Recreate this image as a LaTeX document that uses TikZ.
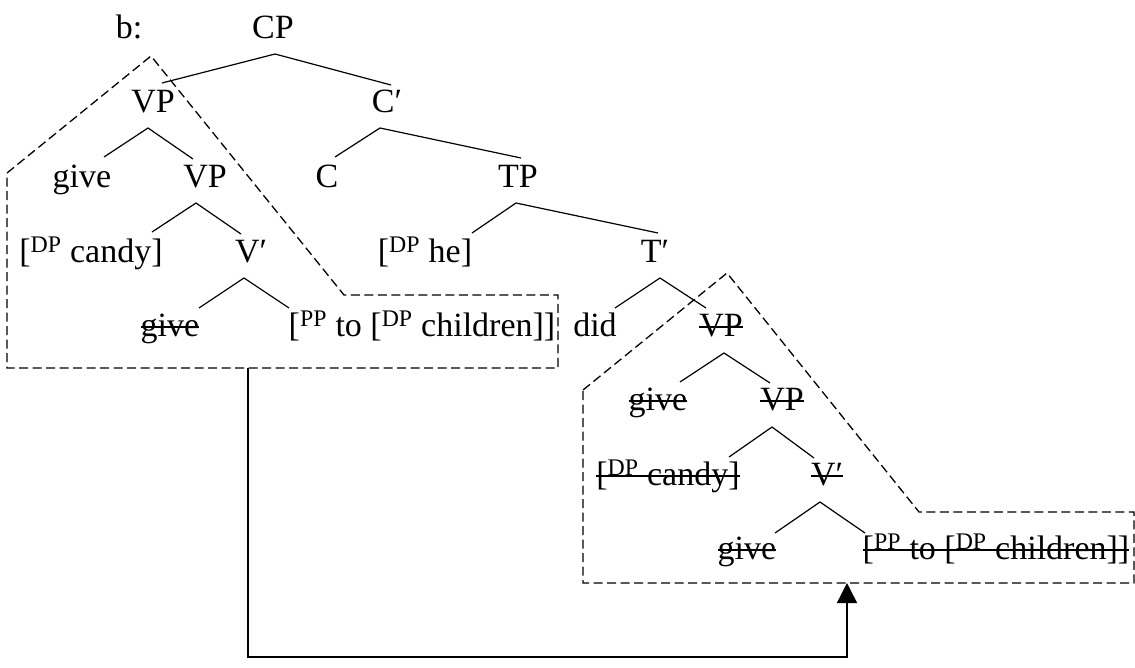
\documentclass[tikz,border=0pt]{standalone}
\usepackage{fontspec}
\setmainfont{Liberation Serif}
\usetikzlibrary{calc,arrows.meta}
\newcommand\sps[1]{\textsuperscript{#1}}
\begin{document}
\begin{tikzpicture}[x=1pt,y=-1pt,
  lbl/.style={inner sep=0pt,anchor=base,font=\fontsize{34}{40}\selectfont},
  br/.style={line width=1.2pt},
  strk/.style={line width=1.4pt},
  mv/.style={dash pattern=on 9pt off 4.5pt,line width=1.3pt},
  link/.style={line width=1.4pt,-{Triangle[length=20pt,width=20pt]}}]
\useasboundingbox (0,0) rectangle (1135,667);
% labels
\node[lbl] (b) at (129,38) {b:};
\node[lbl] (CP) at (273,38) {CP};
\node[lbl] (VPa) at (153,112) {VP};
\node[lbl] (Cbar) at (387,112) {C′};
\node[lbl] (give1) at (82,187) {give};
\node[lbl] (VPb) at (205,187) {VP};
\node[lbl] (C) at (327,187) {C};
\node[lbl] (TP) at (518,187) {TP};
\node[lbl] (candy1) at (91,262) {[\sps{DP} candy]};
\node[lbl] (Vbar1) at (251,262) {V′};
\node[lbl] (he) at (425,262) {[\sps{DP} he]};
\node[lbl] (Tbar) at (655,262) {T′};
\node[lbl] (give2) at (170,336) {give};
\node[lbl] (PP1) at (422,336) {[\sps{PP} to [\sps{DP} children]]};
\node[lbl] (did) at (595,336) {did};
\node[lbl] (VPc) at (721,336) {VP};
\node[lbl] (give3) at (658,410) {give};
\node[lbl] (VPd) at (782,410) {VP};
\node[lbl] (candy2) at (668,485) {[\sps{DP} candy]};
\node[lbl] (Vbar2) at (827,485) {V′};
\node[lbl] (give4) at (747,559) {give};
\node[lbl] (PP2) at (996,559) {[\sps{PP} to [\sps{DP} children]]};
% strike-through of copies
\foreach \n in {give2,VPc,give3,VPd,candy2,Vbar2,give4,PP2}
  \draw[strk] ($(\n.base west)+(0,-9)$) -- ($(\n.base east)+(0,-9)$);
% branches
\draw[br] ($(VPa.base)+(9,-29)$) -- ($(CP.base)+(2,16)$) -- ($(Cbar.base)+(4,-27)$);
\draw[br] ($(give1.base)+(22,-30)$) -- ($(VPa.base)+(-5,16)$) -- ($(VPb.base)+(-12,-28)$);
\draw[br] ($(C.base)+(8,-30)$) -- ($(Cbar.base)+(-7,16)$) -- ($(TP.base)+(3,-29)$);
\draw[br] ($(candy1.base)+(61,-30)$) -- ($(VPb.base)+(-9,16)$) -- ($(Vbar1.base)+(-10,-28)$);
\draw[br] ($(he.base)+(47,-29)$) -- ($(TP.base)+(-2,16)$) -- ($(Tbar.base)+(3,-29)$);
\draw[br] ($(give2.base)+(29,-28)$) -- ($(Vbar1.base)+(-7,16)$) -- ($(PP1.base)+(-133,-28)$);
\draw[br] ($(did.base)+(20,-28)$) -- ($(Tbar.base)+(5,16)$) -- ($(VPc.base)+(-15,-28)$);
\draw[br] ($(give3.base)+(22,-28)$) -- ($(VPc.base)+(3,17)$) -- ($(VPd.base)+(-12,-27)$);
\draw[br] ($(candy2.base)+(61,-28)$) -- ($(VPd.base)+(-10,17)$) -- ($(Vbar2.base)+(-13,-27)$);
\draw[br] ($(give4.base)+(28,-26)$) -- ($(Vbar2.base)+(-7,17)$) -- ($(PP2.base)+(-131,-26)$);
% movement boxes
\draw[mv] (7,173) -- (151,56) -- (344,295) -- (558,295) -- (558,368) -- (7,368) -- cycle;
\draw[mv] (583,390) -- (727,273) -- (919,512) -- (1134,512) -- (1134,583) -- (583,583) -- cycle;
\coordinate (src) at (248,368);
\coordinate (dst) at (847,583);
\draw[link] (src) |- (847,657) -- (dst);
\end{tikzpicture}
\end{document}
